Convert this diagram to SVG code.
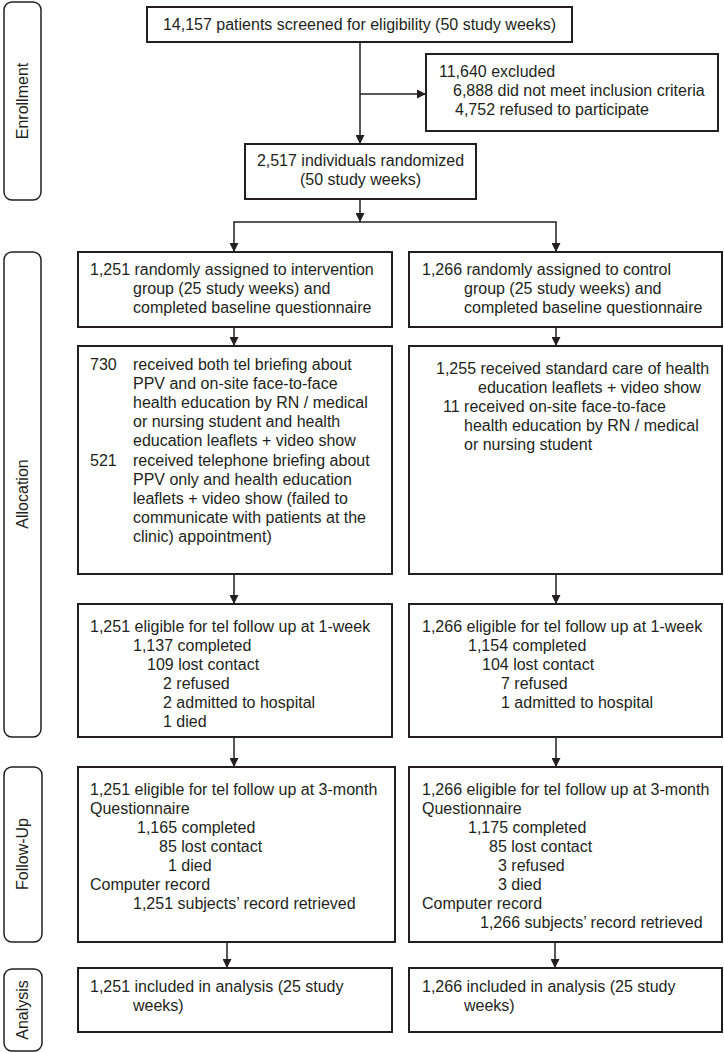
<svg xmlns="http://www.w3.org/2000/svg" width="724" height="1053" viewBox="0 0 724 1053">
<style>
.box{fill:#fff;stroke:#231f20;stroke-width:2}
.side{fill:#fff;stroke:#231f20;stroke-width:1.5}
.t{font-family:"Liberation Sans",Arial,sans-serif;font-size:16px;fill:#231f20}
.c{text-anchor:middle}
.con{fill:none;stroke:#231f20;stroke-width:1.5}
</style>
<defs>
<marker id="ah" viewBox="0 0 10 10" refX="10" refY="5" markerWidth="10" markerHeight="9" markerUnits="userSpaceOnUse" orient="auto">
<path d="M0,0 L10,5 L0,10 z" fill="#231f20"/>
</marker>
</defs>
<rect width="724" height="1053" fill="#fff"/>

<g id="phase-enrollment">
<rect class="side" x="4" y="2" width="37" height="198" rx="8"/>
<text class="t c" transform="translate(28,101) rotate(-90)">Enrollment</text>
</g>
<g id="phase-allocation">
<rect class="side" x="4" y="252" width="37" height="485" rx="8"/>
<text class="t c" transform="translate(28,494) rotate(-90)">Allocation</text>
</g>
<g id="phase-followup">
<rect class="side" x="4" y="767" width="38" height="175" rx="8"/>
<text class="t c" transform="translate(28,854) rotate(-90)">Follow-Up</text>
</g>
<g id="phase-analysis">
<rect class="side" x="4" y="969" width="38" height="82" rx="8"/>
<text class="t c" transform="translate(28,1010) rotate(-90)">Analysis</text>
</g>

<g id="connectors">
<path class="con" d="M360 42 V144" marker-end="url(#ah)"/>
<path class="con" d="M360 94 H426" marker-end="url(#ah)"/>
<path class="con" d="M360 199 V222" marker-end="url(#ah)"/>
<path class="con" d="M233.25 222 H556.75"/>
<path class="con" d="M234 222 V252" marker-end="url(#ah)"/>
<path class="con" d="M556 222 V252" marker-end="url(#ah)"/>
<path class="con" d="M234 327 V346" marker-end="url(#ah)"/>
<path class="con" d="M556 327 V346" marker-end="url(#ah)"/>
<path class="con" d="M234 574 V604" marker-end="url(#ah)"/>
<path class="con" d="M556 574 V604" marker-end="url(#ah)"/>
<path class="con" d="M234 737 V767" marker-end="url(#ah)"/>
<path class="con" d="M556 737 V767" marker-end="url(#ah)"/>
<path class="con" d="M227 942 V968" marker-end="url(#ah)"/>
<path class="con" d="M555 942 V968" marker-end="url(#ah)"/>
</g>

<g id="screened">
<rect class="box" x="147" y="7" width="425" height="35"/>
<text class="t c" x="359.5" y="30">14,157 patients screened for eligibility (50 study weeks)</text>
</g>

<g id="excluded">
<rect class="box" x="426" y="54" width="292" height="77"/>
<text class="t" x="439" y="77">11,640 excluded</text>
<text class="t" x="453" y="96">6,888 did not meet inclusion criteria</text>
<text class="t" x="455" y="115">4,752 refused to participate</text>
</g>

<g id="randomized">
<rect class="box" x="245" y="144" width="231" height="55"/>
<text class="t c" x="360.5" y="166">2,517 individuals randomized</text>
<text class="t c" x="360.5" y="185">(50 study weeks)</text>
</g>

<g id="int-assigned">
<rect class="box" x="78" y="252" width="314" height="75"/>
<text class="t" x="90" y="275">1,251 randomly assigned to intervention</text>
<text class="t" x="133" y="294">group (25 study weeks) and</text>
<text class="t" x="133" y="313">completed baseline questionnaire</text>
</g>

<g id="ctl-assigned">
<rect class="box" x="409" y="252" width="313" height="75"/>
<text class="t" x="422" y="275">1,266 randomly assigned to control</text>
<text class="t" x="464" y="294">group (25 study weeks) and</text>
<text class="t" x="464" y="313">completed baseline questionnaire</text>
</g>

<g id="int-received">
<rect class="box" x="78" y="346" width="314" height="228"/>
<text class="t" x="90" y="370">730</text>
<text class="t" x="133" y="370">received both tel briefing about</text>
<text class="t" x="133" y="389">PPV and on-site face-to-face</text>
<text class="t" x="133" y="408">health education by RN / medical</text>
<text class="t" x="133" y="427">or nursing student and health</text>
<text class="t" x="133" y="446">education leaflets + video show</text>
<text class="t" x="90" y="466">521</text>
<text class="t" x="133" y="466">received telephone briefing about</text>
<text class="t" x="133" y="485">PPV only and health education</text>
<text class="t" x="133" y="504">leaflets + video show (failed to</text>
<text class="t" x="133" y="523">communicate with patients at the</text>
<text class="t" x="133" y="542">clinic) appointment)</text>
</g>

<g id="ctl-received">
<rect class="box" x="409" y="346" width="313" height="228"/>
<text class="t" x="436" y="374">1,255 received standard care of health</text>
<text class="t" x="478" y="393">education leaflets + video show</text>
<text class="t" x="443" y="412">11 received on-site face-to-face</text>
<text class="t" x="464" y="431">health education by RN / medical</text>
<text class="t" x="464" y="450">or nursing student</text>
</g>

<g id="int-1week">
<rect class="box" x="78" y="604" width="314" height="133"/>
<text class="t" x="90" y="632">1,251 eligible for tel follow up at 1-week</text>
<text class="t" x="133" y="651">1,137 completed</text>
<text class="t" x="147" y="670">109 lost contact</text>
<text class="t" x="163" y="689">2 refused</text>
<text class="t" x="163" y="708">2 admitted to hospital</text>
<text class="t" x="163" y="727">1 died</text>
</g>

<g id="ctl-1week">
<rect class="box" x="409" y="604" width="313" height="133"/>
<text class="t" x="422" y="632">1,266 eligible for tel follow up at 1-week</text>
<text class="t" x="468" y="651">1,154 completed</text>
<text class="t" x="482" y="670">104 lost contact</text>
<text class="t" x="501" y="689">7 refused</text>
<text class="t" x="501" y="708">1 admitted to hospital</text>
</g>

<g id="int-3month">
<rect class="box" x="78" y="767" width="317" height="175"/>
<text class="t" x="90" y="795">1,251 eligible for tel follow up at 3-month</text>
<text class="t" x="90" y="814">Questionnaire</text>
<text class="t" x="137" y="833">1,165 completed</text>
<text class="t" x="159" y="852">85 lost contact</text>
<text class="t" x="168" y="871">1 died</text>
<text class="t" x="90" y="890">Computer record</text>
<text class="t" x="133" y="909">1,251 subjects’ record retrieved</text>
</g>

<g id="ctl-3month">
<rect class="box" x="409" y="767" width="313" height="175"/>
<text class="t" x="422" y="795">1,266 eligible for tel follow up at 3-month</text>
<text class="t" x="422" y="814">Questionnaire</text>
<text class="t" x="468" y="833">1,175 completed</text>
<text class="t" x="489" y="852">85 lost contact</text>
<text class="t" x="498" y="871">3 refused</text>
<text class="t" x="498" y="890">3 died</text>
<text class="t" x="422" y="909">Computer record</text>
<text class="t" x="480" y="928">1,266 subjects’ record retrieved</text>
</g>

<g id="int-analysis">
<rect class="box" x="78" y="968" width="314" height="64"/>
<text class="t" x="90" y="992">1,251 included in analysis (25 study</text>
<text class="t" x="133" y="1011">weeks)</text>
</g>

<g id="ctl-analysis">
<rect class="box" x="409" y="968" width="313" height="64"/>
<text class="t" x="422" y="992">1,266 included in analysis (25 study</text>
<text class="t" x="464" y="1011">weeks)</text>
</g>
</svg>
